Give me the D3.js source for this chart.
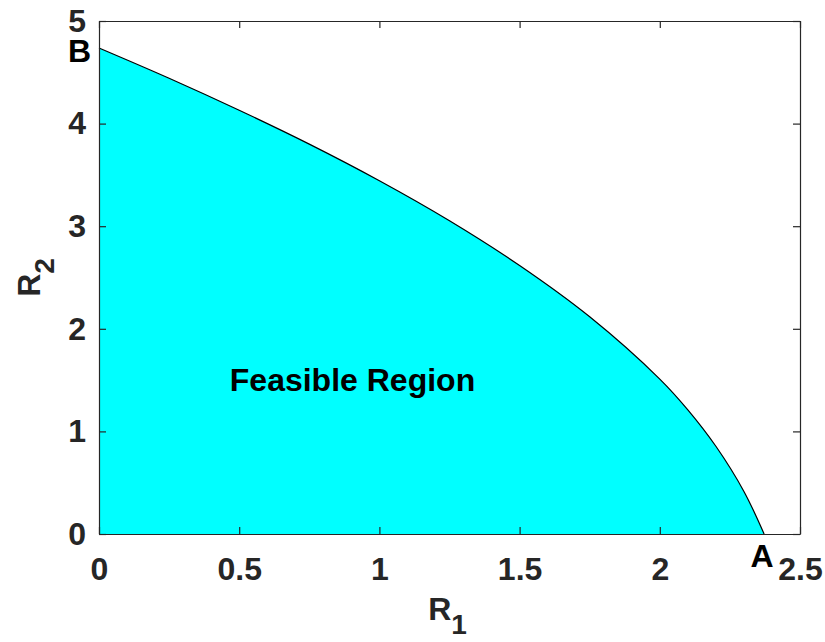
<!DOCTYPE html>
<html>
<head>
<meta charset="utf-8">
<script src="https://cdn.jsdelivr.net/npm/d3@7"></script>
<style>
  body { margin: 0; background: #fff; }
  svg { display: block; font-family: "Liberation Sans", Arial, sans-serif; }
</style>
</head>
<body>
<script>
// Boundary of the feasible region
const r1Values = [0, 0.25, 0.5, 0.75, 1.0, 1.25, 1.5, 1.75, 2.0, 2.1, 2.2, 2.3, 2.372];
const r2Values = [4.737, 4.442, 4.13, 3.80, 3.443, 3.053, 2.617, 2.117, 1.51, 1.21, 0.855, 0.415, 0];
const xTicks = [0, 0.5, 1, 1.5, 2, 2.5];
const xTickLabels = ["0", "0.5", "1", "1.5", "2", "2.5"];
const yTicks = [0, 1, 2, 3, 4, 5];
const yTickLabels = ["0", "1", "2", "3", "4", "5"];
const regionLabel = "Feasible Region";
const regionLabelPos = [0.904, 1.39];
const pointLabels = [{name: "B", idx: 0}, {name: "A", idx: r1Values.length - 1}];

const W = 825, H = 642;
const margin = {left: 99, right: 25, top: 21, bottom: 108};
const iw = W - margin.left - margin.right;
const ih = H - margin.top - margin.bottom;
const axisColor = "#262626";
const fs = 32;

const data = r1Values.map((r, i) => ({r1: r, r2: r2Values[i]}));

const svg = d3.select("body").append("svg").attr("width", W).attr("height", H);
const g = svg.append("g").attr("transform", `translate(${margin.left},${margin.top})`);

const x = d3.scaleLinear().domain([0, 2.5]).range([0, iw]);
const y = d3.scaleLinear().domain([0, 5]).range([ih, 0]);

const curve = d3.curveCatmullRom.alpha(0.5);

// filled region
g.append("path")
  .datum(data)
  .attr("fill", "#00ffff")
  .attr("d", d3.area().x(d => x(d.r1)).y0(y(0)).y1(d => y(d.r2)).curve(curve));

g.append("path")
  .datum(data)
  .attr("fill", "none")
  .attr("stroke", "#000")
  .attr("stroke-width", 1.2)
  .attr("d", d3.line().x(d => x(d.r1)).y(d => y(d.r2)).curve(curve));

function styleAxis(sel, showLabels) {
  sel.selectAll(".domain").attr("stroke", axisColor).attr("stroke-width", 1.2);
  sel.selectAll(".tick line").attr("stroke", axisColor).attr("stroke-width", 1.2);
  sel.selectAll(".tick text")
    .attr("fill", axisColor)
    .style("font-size", fs + "px")
    .style("font-weight", "bold")
    .style("font-family", '"Liberation Sans", Arial, sans-serif');
  if (!showLabels) sel.selectAll(".tick text").remove();
}

const xAxis = g.append("g").attr("transform", `translate(0,${ih})`)
  .call(d3.axisBottom(x).tickValues(xTicks).tickFormat((d, i) => xTickLabels[i])
    .tickSizeInner(-7).tickSizeOuter(0).tickPadding(23));
styleAxis(xAxis, true);

const xAxisTop = g.append("g")
  .call(d3.axisTop(x).tickValues(xTicks).tickSizeInner(-7).tickSizeOuter(0));
styleAxis(xAxisTop, false);

const yAxis = g.append("g")
  .call(d3.axisLeft(y).tickValues(yTicks).tickFormat((d, i) => yTickLabels[i])
    .tickSizeInner(-7).tickSizeOuter(0).tickPadding(13));
styleAxis(yAxis, true);

const yAxisRight = g.append("g").attr("transform", `translate(${iw},0)`)
  .call(d3.axisRight(y).tickValues(yTicks).tickSizeInner(-7).tickSizeOuter(0));
styleAxis(yAxisRight, false);

// region label
g.append("text")
  .attr("x", x(regionLabelPos[0]))
  .attr("y", y(regionLabelPos[1]))
  .attr("text-anchor", "middle")
  .attr("fill", "#000")
  .style("font-size", fs + "px")
  .style("font-weight", "bold")
  .text(regionLabel);

// point labels
pointLabels.forEach(p => {
  const d = data[p.idx];
  const t = g.append("text")
    .attr("fill", "#000")
    .style("font-size", fs + "px")
    .style("font-weight", "bold")
    .text(p.name);
  if (p.name === "B") {
    t.attr("x", x(d.r1) - 8).attr("y", y(d.r2) + 14).attr("text-anchor", "end");
  } else {
    t.attr("x", x(d.r1) - 2).attr("y", y(d.r2) + 33).attr("text-anchor", "middle");
  }
});

// axis labels
const xl = svg.append("text")
  .attr("x", margin.left + iw / 2 - 2)
  .attr("y", 620)
  .attr("text-anchor", "middle")
  .attr("fill", axisColor)
  .style("font-size", fs + "px")
  .style("font-weight", "bold");
xl.append("tspan").text("R");
xl.append("tspan").attr("dy", 14).style("font-size", "28px").text("1");

const yl = svg.append("text")
  .attr("transform", `translate(40,${margin.top + ih / 2}) rotate(-90)`)
  .attr("text-anchor", "middle")
  .attr("fill", axisColor)
  .style("font-size", fs + "px")
  .style("font-weight", "bold");
yl.append("tspan").text("R");
yl.append("tspan").attr("dy", 14).style("font-size", "28px").text("2");
</script>
</body>
</html>
